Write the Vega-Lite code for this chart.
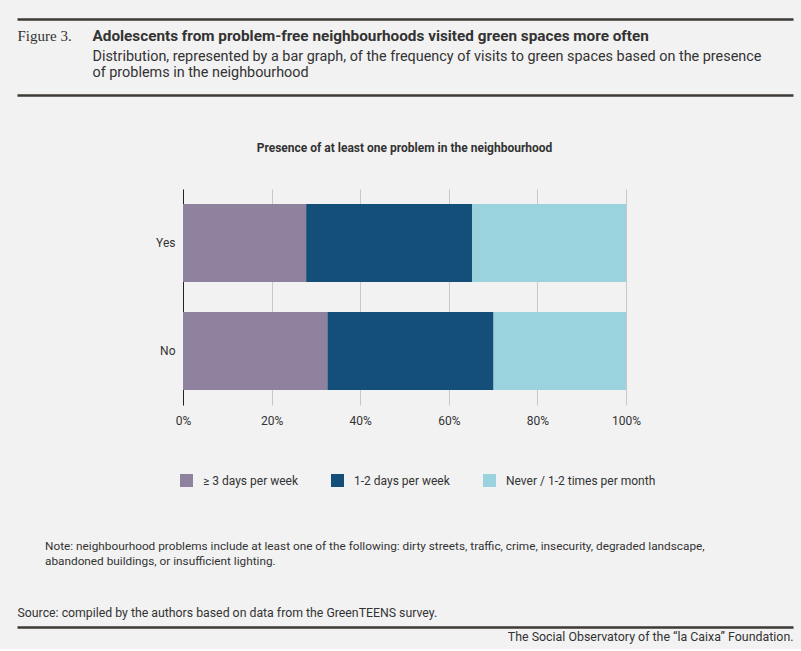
{
  "$schema": "https://vega.github.io/schema/vega-lite/v6.json",
  "background": "#f2f2f2",
  "padding": {"left": 14, "top": 19, "right": 9, "bottom": 6},
  "spacing": 44,
  "resolve": {"legend": {"color": "independent"}},
  "config": {
    "view": {"stroke": null},
    "font": "Roboto",
    "axis": {"labelFont": "Roboto", "titleFont": "Roboto"}
  },
  "vconcat": [
    {
      "width": 610,
      "height": 76,
      "data": {"values": [{"v": 0}]},
      "layer": [
        {
          "mark": {"type": "point", "opacity": 0},
          "encoding": {
            "x": {"field": "v", "type": "quantitative", "scale": {"domain": [0, 1], "range": [-166, 610]},
              "axis": {"orient": "top", "domain": true, "domainColor": "#3d3935", "domainWidth": 2.5, "ticks": false, "labels": false, "grid": false,
                "title": "Adolescents from problem-free neighbourhoods visited green spaces more often",
                "titleX": -91, "titleY": 16, "titleAlign": "left", "titleBaseline": "middle", "titleAnchor": "start",
                "titleFont": "Roboto", "titleFontSize": 15.3, "titleFontWeight": "bold", "titleColor": "#333333"}},
            "y": {"field": "v", "type": "quantitative", "scale": {"domain": [0, 1]},
              "axis": {"orient": "left", "domain": false, "ticks": false, "labels": false, "grid": false, "minExtent": 0, "maxExtent": 0,
                "title": "Figure 3.", "titleAngle": 0, "titleX": -166, "titleY": 16, "titleAlign": "left", "titleBaseline": "middle",
                "titleFont": "Liberation Serif", "titleFontSize": 15, "titleFontWeight": "normal", "titleColor": "#333333"}}
          }
        },
        {
          "mark": {"type": "point", "opacity": 0},
          "encoding": {
            "x": {"field": "v", "type": "quantitative", "scale": {"domain": [0, 1], "range": [-166, 610]},
              "axis": {"orient": "bottom", "domain": true, "domainColor": "#3d3935", "domainWidth": 2.5, "ticks": false, "labels": false, "grid": false,
                "title": ["Distribution, represented by a bar graph, of the frequency of visits to green spaces based on the presence", "of problems in the neighbourhood"],
                "titleX": -91, "titleY": -46, "titleAlign": "left", "titleBaseline": "top", "titleAnchor": "start", "titleLineHeight": 16.5,
                "titleFont": "Roboto", "titleFontSize": 14.4, "titleFontWeight": "normal", "titleColor": "#333333"}},
            "y": {"field": "v", "type": "quantitative", "scale": {"domain": [0, 1]},
              "axis": {"orient": "left", "domain": false, "ticks": false, "labels": false, "grid": false, "minExtent": 0, "maxExtent": 0,
                "title": "Figure 3.", "titleAngle": 0, "titleX": -166, "titleY": 16, "titleAlign": "left", "titleBaseline": "middle",
                "titleFont": "Liberation Serif", "titleFontSize": 15, "titleFontWeight": "normal", "titleColor": "#333333"}}
          }
        }
      ],
      "resolve": {"axis": {"x": "independent"}, "scale": {"x": "independent"}}
    },
    {
      "width": 443,
      "height": 216,
      "title": {"text": "Presence of at least one problem in the neighbourhood", "fontSize": 12, "fontWeight": "bold", "color": "#333333", "offset": 34, "anchor": "middle"},
      "data": {"values": [
        {"problem": "Yes", "freq": "≥ 3 days per week", "k": 1, "share": 0.278},
        {"problem": "Yes", "freq": "1-2 days per week", "k": 2, "share": 0.375},
        {"problem": "Yes", "freq": "Never / 1-2 times per month", "k": 3, "share": 0.347},
        {"problem": "No", "freq": "≥ 3 days per week", "k": 1, "share": 0.326},
        {"problem": "No", "freq": "1-2 days per week", "k": 2, "share": 0.375},
        {"problem": "No", "freq": "Never / 1-2 times per month", "k": 3, "share": 0.299}
      ]},
      "mark": {"type": "bar"},
      "encoding": {
        "y": {"field": "problem", "type": "nominal", "sort": ["Yes", "No"],
          "scale": {"paddingInner": 0.278, "paddingOuter": 0.14},
          "axis": {"title": null, "domain": true, "domainColor": "#222222", "domainWidth": 1, "ticks": false, "labelPadding": 8,
            "labelFontSize": 12, "labelColor": "#333333", "minExtent": 167, "maxExtent": 167}},
        "x": {"field": "share", "type": "quantitative", "stack": "zero",
          "scale": {"domain": [0, 1]},
          "axis": {"title": null, "format": ".0%", "values": [0, 0.2, 0.4, 0.6, 0.8, 1], "domain": false, "ticks": false, "labelFlush": false,
            "grid": true, "gridColor": "#c8c8c8", "gridWidth": 1, "labelPadding": 10, "labelFontSize": 12, "labelColor": "#333333"}},
        "color": {"field": "freq", "type": "nominal",
          "scale": {"domain": ["≥ 3 days per week", "1-2 days per week", "Never / 1-2 times per month"], "range": ["#8f829e", "#134f79", "#9ad2dd"]},
          "legend": {"title": null, "orient": "none", "legendX": -13, "legendY": 275, "direction": "horizontal", "symbolType": "square", "symbolSize": 169,
            "symbolStrokeWidth": 0, "symbolOpacity": 1, "labelFontSize": 12, "labelColor": "#333333", "labelOffset": 10,
            "columnPadding": 33, "padding": 10}},
        "order": {"field": "k", "type": "quantitative"}
      }
    },
    {
      "width": 610,
      "height": 1,
      "title": {"text": ["Note: neighbourhood problems include at least one of the following: dirty streets, traffic, crime, insecurity, degraded landscape,", "abandoned buildings, or insufficient lighting."],
        "anchor": "start", "frame": "group", "dx": -138, "fontSize": 11.8, "fontWeight": "normal", "lineHeight": 15, "color": "#333333", "offset": 38},
      "data": {"values": [{"v": 0}]},
      "layer": [
        {
          "mark": {"type": "point", "opacity": 0},
          "encoding": {
            "x": {"field": "v", "type": "quantitative", "scale": {"domain": [0, 1], "range": [-166, 610]},
              "axis": {"orient": "top", "domain": true, "domainColor": "#3d3935", "domainWidth": 2.5, "ticks": false, "labels": false, "grid": false,
                "title": "Source: compiled by the authors based on data from the GreenTEENS survey.",
                "titleX": -166, "titleY": -15, "titleAlign": "left", "titleBaseline": "middle", "titleAnchor": "start",
                "titleFontSize": 12.3, "titleFontWeight": "normal", "titleColor": "#333333"}},
            "y": {"field": "v", "type": "quantitative", "scale": {"domain": [0, 1]}, "axis": null}
          }
        },
        {
          "mark": {"type": "point", "opacity": 0},
          "encoding": {
            "x": {"field": "v", "type": "quantitative", "scale": {"domain": [0, 1], "range": [-166, 610]},
              "axis": {"orient": "bottom", "domain": false, "ticks": false, "labels": false, "grid": false,
                "title": "The Social Observatory of the “la Caixa” Foundation.",
                "titleX": 610, "titleY": 8, "titleAlign": "right", "titleBaseline": "middle", "titleAnchor": "end",
                "titleFontSize": 12.4, "titleFontWeight": "normal", "titleColor": "#333333"}},
            "y": {"field": "v", "type": "quantitative", "scale": {"domain": [0, 1]}, "axis": null}
          }
        }
      ],
      "resolve": {"axis": {"x": "independent"}, "scale": {"x": "independent"}}
    }
  ]
}
